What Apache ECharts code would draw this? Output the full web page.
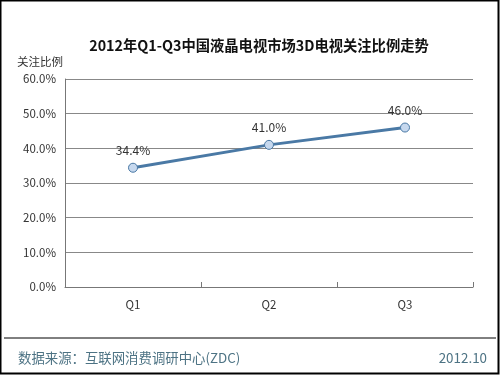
<!DOCTYPE html>
<html><head><meta charset="utf-8">
<script src="https://cdn.jsdelivr.net/npm/echarts@6/dist/echarts.min.js"></script>
<style>html,body{margin:0;padding:0;background:#fff}#c{width:500px;height:375px}</style>
</head><body><div id="c"></div>
<script>
const categories = ['Q1', 'Q2', 'Q3'];
const values = [34.4, 41.0, 46.0];
const yTicks = [0, 10, 20, 30, 40, 50, 60];
const titleText = '2012年Q1-Q3中国液晶电视市场3D电视关注比例走势';
const yName = '关注比例';
const sourceText = '数据来源：互联网消费调研中心(ZDC)';
const dateText = '2012.10';

const font = '"Noto Sans CJK SC", "DejaVu Sans", sans-serif';
const chart = echarts.init(document.getElementById('c'), null, {renderer: 'canvas'});
chart.setOption({
  animation: false,
  backgroundColor: '#fff',
  title: {
    text: titleText, left: 254, top: 33, textAlign: 'center',
    textStyle: {fontFamily: font, fontSize: 14.3, fontWeight: 'bold', color: '#111'}
  },
  grid: {left: 65, right: 27, top: 79, bottom: 88, containLabel: false},
  xAxis: {
    type: 'category', data: categories, boundaryGap: true,
    axisLine: {lineStyle: {color: '#777', width: 1}},
    axisTick: {show: true, length: 5, inside: true, alignWithLabel: false, lineStyle: {color: '#777'}},
    axisLabel: {fontFamily: font, fontSize: 11.5, color: '#333', margin: 12}
  },
  yAxis: {
    type: 'value', min: yTicks[0], max: yTicks[yTicks.length - 1], interval: 10,
    name: yName, nameLocation: 'end', nameGap: 12,
    nameTextStyle: {fontFamily: font, fontSize: 11.5, color: '#333', align: 'center', padding: [0, 0, 0, -50]},
    axisLine: {show: true, lineStyle: {color: '#777'}},
    axisTick: {show: false},
    axisLabel: {fontFamily: font, fontSize: 11.5, color: '#333', margin: 9,
      formatter: v => v.toFixed(1) + '%'},
    splitLine: {lineStyle: {color: '#888', width: 1}}
  },
  series: [{
    type: 'line', data: values,
    symbol: 'circle', symbolSize: 9,
    lineStyle: {color: '#4a79a5', width: 3},
    itemStyle: {color: '#c6d8ee', borderColor: '#4a79a5', borderWidth: 1},
    label: {show: true, position: 'top', distance: 6, fontFamily: font, fontSize: 12, color: '#333',
      formatter: p => p.value.toFixed(1) + '%'}
  }],
  graphic: [
    {type: 'rect', shape: {x: 0.5, y: 0.5, width: 498, height: 373}, style: {fill: 'none', stroke: '#000', lineWidth: 2}, silent: true},
    {type: 'line', shape: {x1: 4, y1: 338, x2: 496, y2: 338}, style: {stroke: '#000', lineWidth: 1}},
    {type: 'text', left: 18, top: 351, style: {text: sourceText, font: '13.4px ' + font, fill: '#4d7384'}},
    {type: 'text', right: 13, top: 351, style: {text: dateText, font: '13.4px ' + font, fill: '#4d7384'}}
  ]
});
</script></body></html>
